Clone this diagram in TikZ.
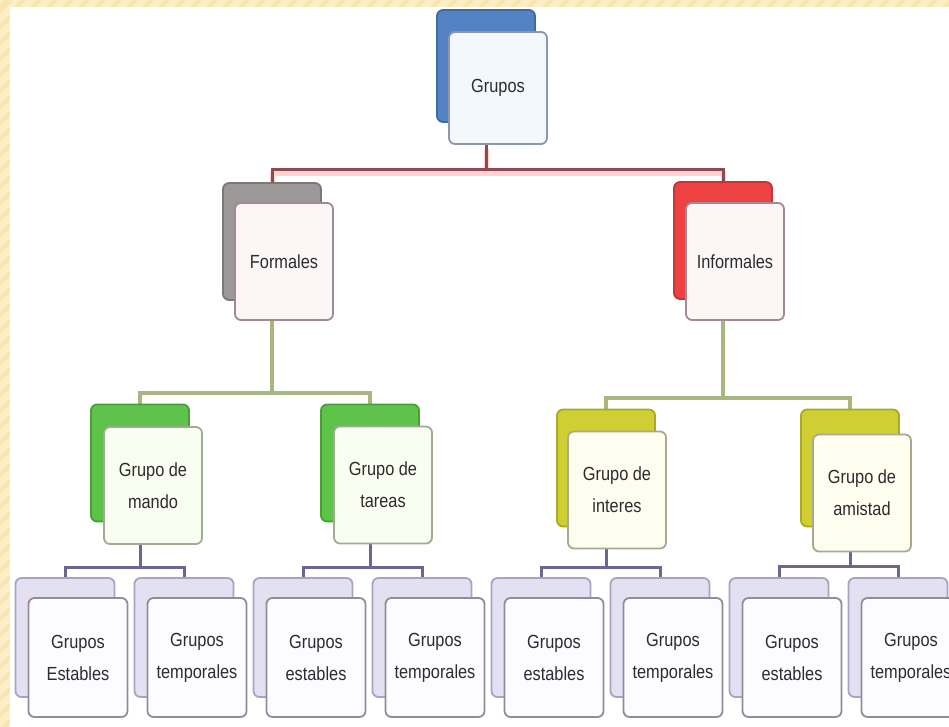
\documentclass[tikz,border=0pt]{standalone}
\usepackage{fontspec}
\newfontfamily\boxfont[FakeStretch=0.86]{Liberation Sans}
\definecolor{paper}{HTML}{FCEFC7}
\definecolor{paperline}{HTML}{F7E5B2}
\definecolor{ink}{HTML}{2C2C2C}
% back cards
\definecolor{bkblueF}{HTML}{5383C2}\definecolor{bkblueD}{HTML}{3F6AA6}
\definecolor{bkgrayF}{HTML}{9C9898}\definecolor{bkgrayD}{HTML}{7C7878}
\definecolor{bkredF}{HTML}{EE4242}\definecolor{bkredD}{HTML}{C83434}
\definecolor{bkgreenF}{HTML}{5EC24B}\definecolor{bkgreenD}{HTML}{46A036}
\definecolor{bkyelF}{HTML}{CFCF33}\definecolor{bkyelD}{HTML}{A9A922}
\definecolor{bklavF}{HTML}{E4E0F2}\definecolor{bklavD}{HTML}{A9A3C2}
% front cards
\definecolor{frblue}{HTML}{F3F8FD}\definecolor{edblue}{HTML}{8C98A8}
\definecolor{frpink}{HTML}{FDF6F7}\definecolor{edmauve}{HTML}{A08A93}
\definecolor{frgreen}{HTML}{FAFDF2}\definecolor{edgreen}{HTML}{A2AA92}
\definecolor{fryel}{HTML}{FDFDF0}\definecolor{edyel}{HTML}{A9A992}
\definecolor{frlav}{HTML}{FCFBFF}\definecolor{edlav}{HTML}{8F8E98}
% connectors
\definecolor{lnred}{HTML}{8E4A4E}\definecolor{lnglow}{HTML}{FFD3D3}
\definecolor{lnolive}{HTML}{A8B77F}
\definecolor{lnpurple}{HTML}{6F6592}
\pgfdeclarelayer{bg}\pgfdeclarelayer{fg}
\pgfsetlayers{bg,main,fg}
\begin{document}
\begin{tikzpicture}[x=1pt,y=-1pt,
  card/.style={rounded corners=6pt, line width=1.8pt, inner sep=0pt},
  bk/.style={card, fill=#1F, draw=#1D},
  fr/.style={card, align=center, text=ink,
    font=\boxfont\fontsize{19}{32}\selectfont},
  sizeA/.style={minimum width=98pt, minimum height=112pt},
  sizeB/.style={minimum width=98pt, minimum height=117pt},
  sizeC/.style={minimum width=99pt, minimum height=119pt},
  redlink/.style={draw=lnred, line width=3pt,
    preaction={draw=lnglow, line width=5pt, transform canvas={yshift=-4pt}}},
  olivelink/.style={draw=lnolive, line width=3.5pt},
  purplelink/.style={draw=lnpurple, line width=3pt}
]
\clip (0,0) rectangle (949,727);
\useasboundingbox (0,0) rectangle (949,727);

% root
\node[bk=bkblue, sizeA] (rootb) at (486,66) {};
\node[fr, sizeA, fill=frblue, draw=edblue] (root) at (498,88) {Grupos};

% first level
\node[bk=bkgray, sizeB] (formb) at (272,241.5) {};
\node[fr, sizeB, fill=frpink, draw=edmauve] (form) at (284,261.5) {Formales};
\node[bk=bkred, sizeB] (infb) at (723,240.5) {};
\node[fr, sizeB, fill=frpink, draw=edmauve] (inf) at (735,261.5) {Informales};

% second level
\node[bk=bkgreen, sizeB] (mandob) at (140,463) {};
\node[fr, sizeB, fill=frgreen, draw=edgreen] (mando) at (153,485.5) {Grupo de\\mando};
\node[bk=bkgreen, sizeB] (tareasb) at (370,463) {};
\node[fr, sizeB, fill=frgreen, draw=edgreen] (tareas) at (383,485) {Grupo de\\tareas};
\node[bk=bkyel, sizeB] (interesb) at (606,468) {};
\node[fr, sizeB, fill=fryel, draw=edyel] (interes) at (617,490) {Grupo de\\interes};
\node[bk=bkyel, sizeB] (amistadb) at (850,468) {};
\node[fr, sizeB, fill=fryel, draw=edyel] (amistad) at (862,493) {Grupo de\\amistad};

% third level
\foreach \i/\lbl in {1/Estables,2/temporales,3/estables,4/temporales,
                     5/estables,6/temporales,7/estables,8/temporales}{
  \pgfmathsetmacro\cx{78+119*(\i-1)}
  \node[bk=bklav, sizeC] (leaf\i b) at (\cx-13,637.5) {};
  \node[fr, sizeC, fill=frlav, draw=edlav] (leaf\i) at (\cx,657.5) {Grupos\\\lbl};
}

% white sheet and connectors, behind the cards
\begin{pgfonlayer}{bg}
  \fill[white] (0,0) rectangle (949,727);

  \coordinate (j0) at (486,170);
  \draw[redlink] (rootb |- root.south) -- (j0) -| (formb.north);
  \draw[redlink] (j0) -| (infb.north);

  \coordinate (j1) at (272,393);
  \draw[olivelink] (formb |- form.south) -- (j1) -| (mandob.north);
  \draw[olivelink] (j1) -| (tareasb.north);
  \coordinate (j2) at (723,398);
  \draw[olivelink] (infb |- inf.south) -- (j2) -| (interesb.north);
  \draw[olivelink] (j2) -| (amistadb.north);

  \coordinate (j3) at (140,567);
  \draw[purplelink] (mandob |- mando.south) -- (j3) -| (leaf1b.north);
  \draw[purplelink] (j3) -| (leaf2b.north);
  \coordinate (j4) at (370,567);
  \draw[purplelink] (tareasb |- tareas.south) -- (j4) -| (leaf3b.north);
  \draw[purplelink] (j4) -| (leaf4b.north);
  \coordinate (j5) at (606,567);
  \draw[purplelink] (interesb |- interes.south) -- (j5) -| (leaf5b.north);
  \draw[purplelink] (j5) -| (leaf6b.north);
  \coordinate (j6) at (850,566);
  \draw[purplelink] (amistadb |- amistad.south) -- (j6) -| (leaf7b.north);
  \draw[purplelink] (j6) -| (leaf8b.north);
\end{pgfonlayer}

% striped paper frame along the top and left edges
\begin{pgfonlayer}{fg}
  \fill[paper] (0,0) rectangle (949,7);
  \fill[paper] (0,0) rectangle (10,727);
  \begin{scope}
    \clip (0,0) rectangle (949,7) (0,0) rectangle (10,727);
    \foreach \k in {0,...,60}{
      \draw[paperline, line width=4pt] (16*\k,8) -- (16*\k+8,-1);
    }
    \foreach \k in {0,...,48}{
      \draw[paperline, line width=4pt] (-1,16*\k+12) -- (11,16*\k);
    }
  \end{scope}
\end{pgfonlayer}
\end{tikzpicture}
\end{document}
